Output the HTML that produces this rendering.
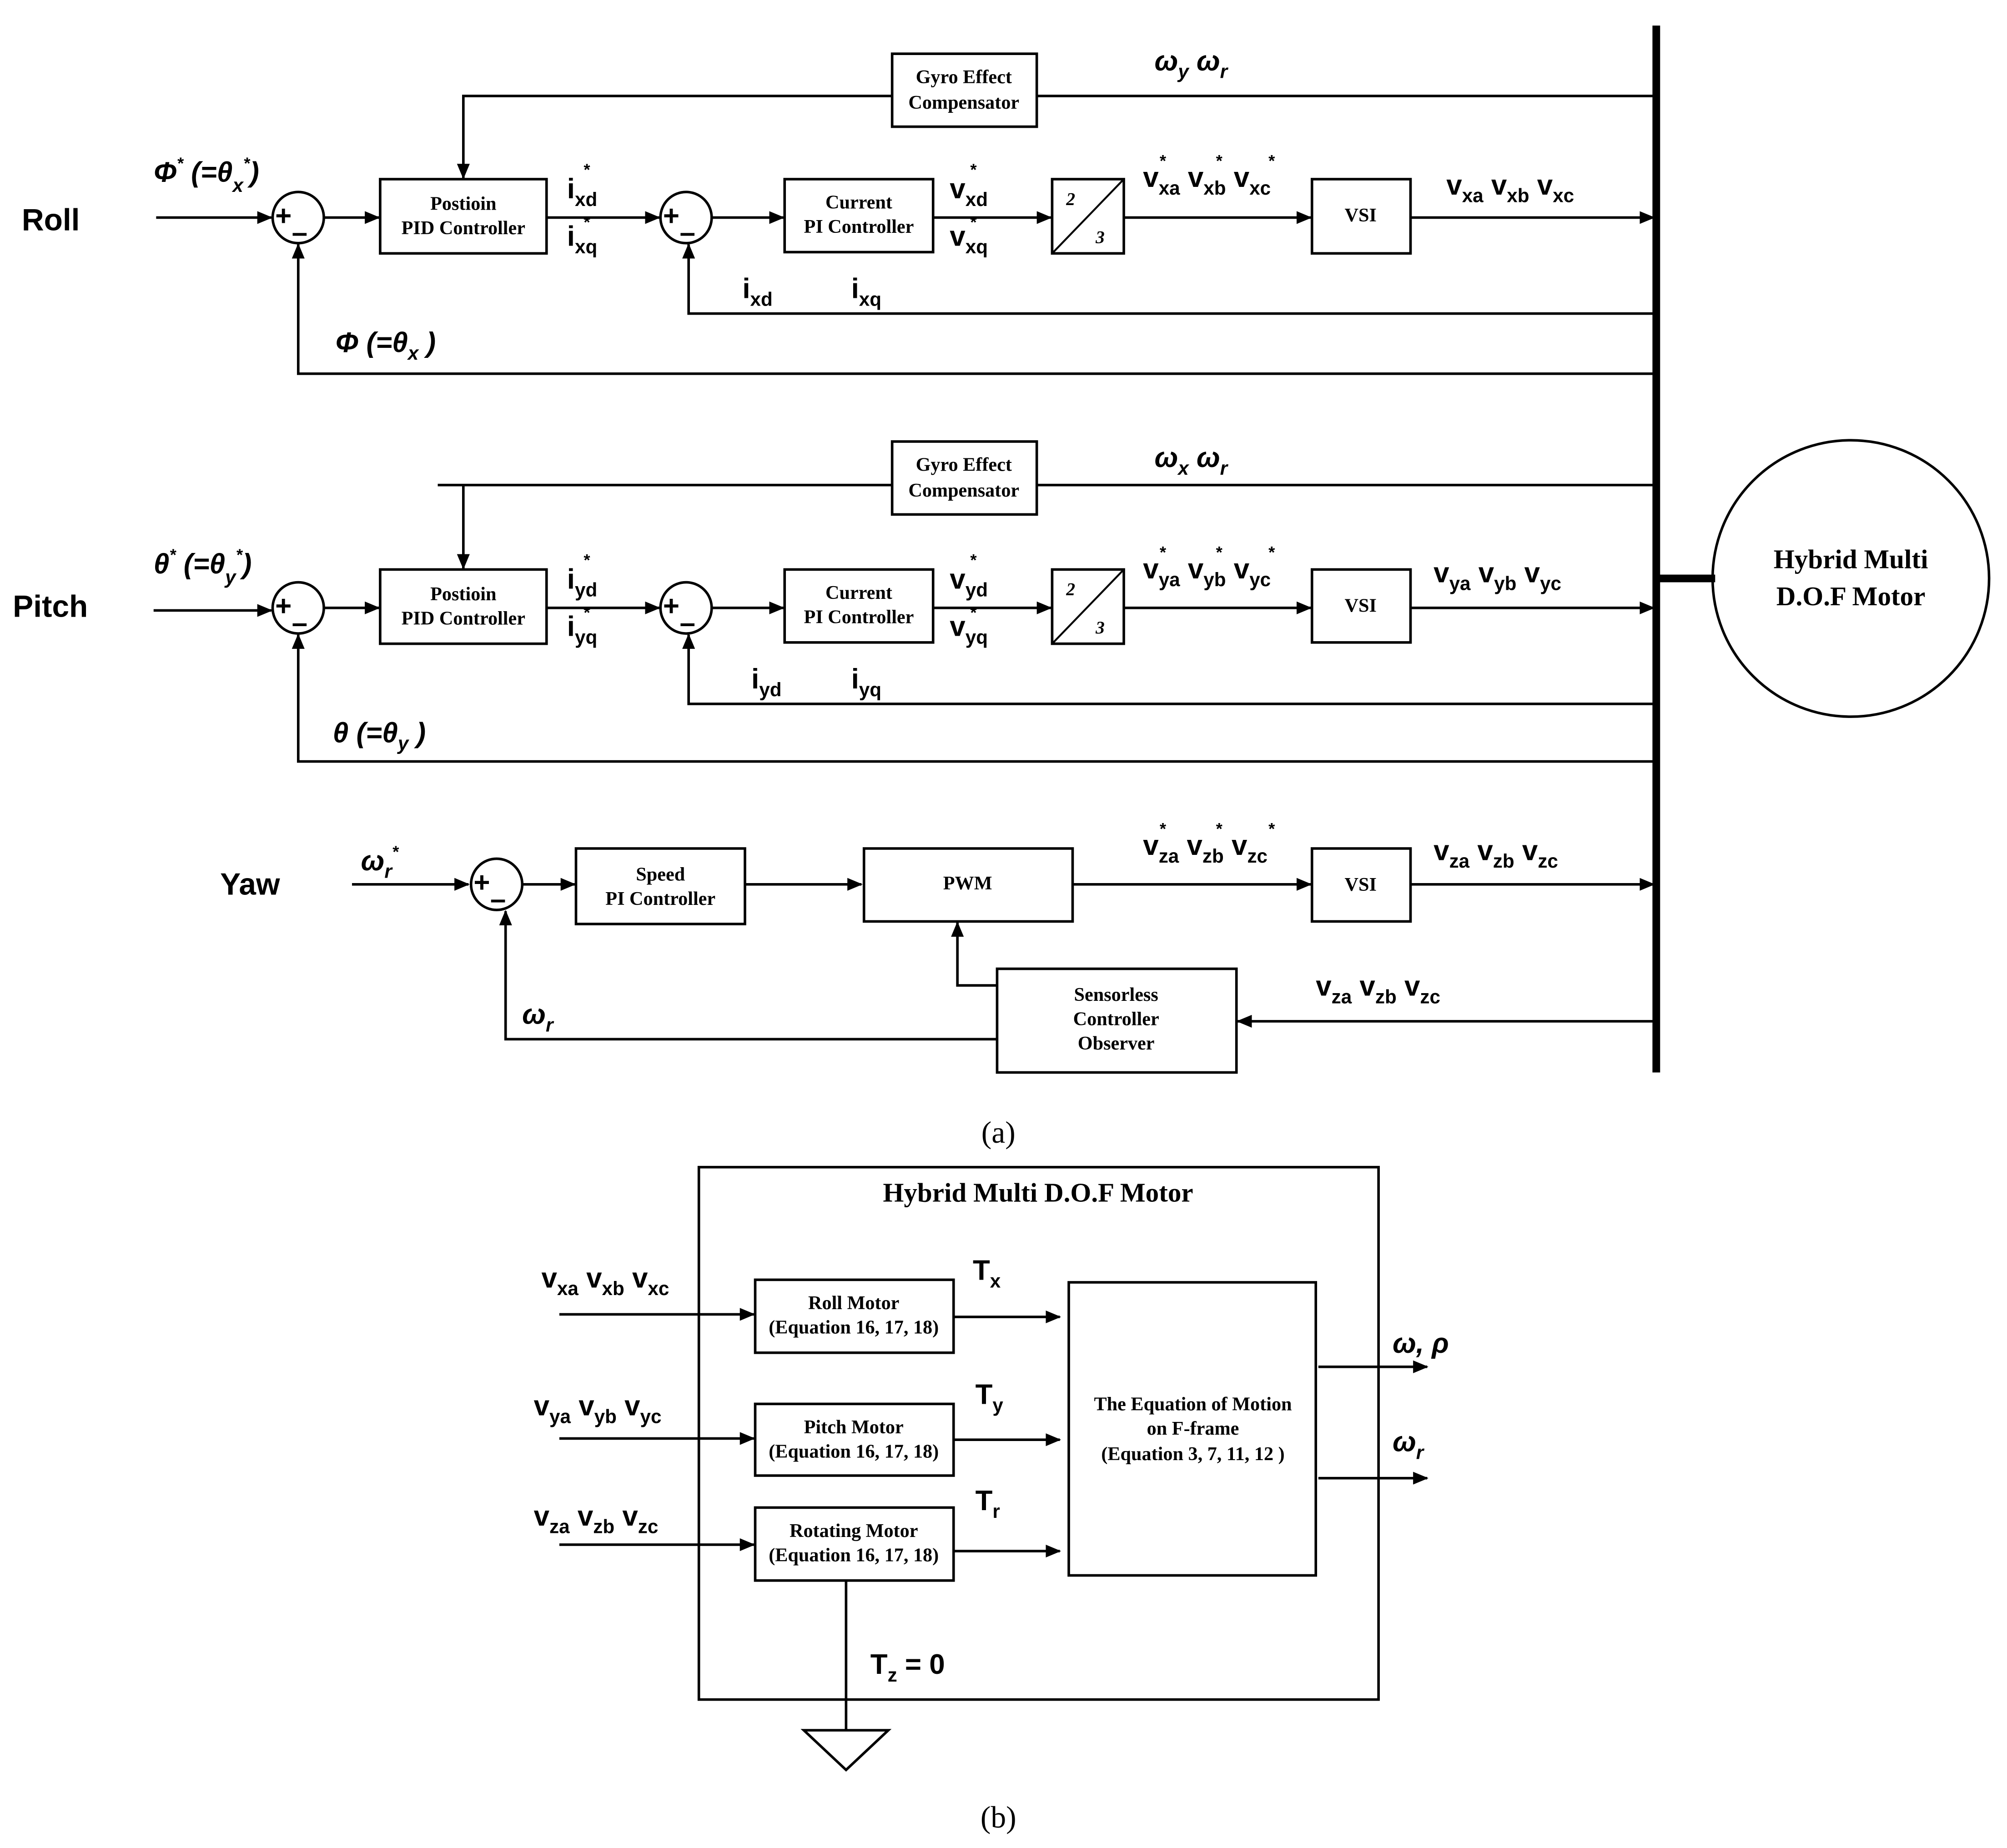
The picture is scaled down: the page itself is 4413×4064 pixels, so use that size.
<!DOCTYPE html>
<html><head><meta charset="utf-8">
<style>
html,body{margin:0;padding:0;background:#fff;}
svg{display:block;}
.s{font-family:"Liberation Sans",sans-serif;font-weight:bold;}
.t{font-family:"Liberation Serif",serif;font-weight:bold;font-size:15px;}
</style></head><body>
<svg width="4413" height="4064" viewBox="0 0 1568 1444" xmlns="http://www.w3.org/2000/svg">
<defs>
<marker id="a" markerWidth="12" markerHeight="10" refX="11" refY="5" orient="auto" markerUnits="userSpaceOnUse">
<path d="M0,0 L12,5 L0,10 Z" fill="#000"/></marker>
</defs>
<rect width="1568" height="1444" fill="#fff"/>
<g fill="none" stroke="#000" stroke-width="2">
<line x1="1294" y1="20" x2="1294" y2="838" stroke-width="6"/>
<line x1="1294" y1="452" x2="1340" y2="452" stroke-width="6"/>
<circle cx="1446" cy="452" r="108"/>

<rect x="697" y="42" width="113" height="57"/>
<polyline points="1292,75 810,75"/>
<polyline points="697,75 362,75 362,139" marker-end="url(#a)"/>
<line x1="122" y1="170" x2="212" y2="170" marker-end="url(#a)"/>
<ellipse cx="233" cy="170" rx="20" ry="20"/>
<line x1="253" y1="170" x2="296" y2="170" marker-end="url(#a)"/>
<rect x="297" y="140" width="130" height="58"/>
<line x1="427" y1="170" x2="515" y2="170" marker-end="url(#a)"/>
<ellipse cx="536" cy="170" rx="20" ry="20"/>
<line x1="556" y1="170" x2="612" y2="170" marker-end="url(#a)"/>
<rect x="613" y="140" width="116" height="57"/>
<line x1="729" y1="170" x2="821" y2="170" marker-end="url(#a)"/>
<rect x="822" y="140" width="56" height="58"/>
<line x1="822" y1="198" x2="878" y2="140" stroke-width="1.5"/>
<line x1="878" y1="170" x2="1024" y2="170" marker-end="url(#a)"/>
<rect x="1025" y="140" width="77" height="58"/>
<line x1="1102" y1="170" x2="1292" y2="170" marker-end="url(#a)"/>
<polyline points="1292,245 538,245 538,191" marker-end="url(#a)"/>
<polyline points="1292,292 233,292 233,191" marker-end="url(#a)"/>

<rect x="697" y="345" width="113" height="57"/>
<polyline points="1292,379 810,379"/>
<polyline points="697,379 342,379"/>
<line x1="362" y1="379" x2="362" y2="444" marker-end="url(#a)"/>
<line x1="120" y1="477" x2="212" y2="477" marker-end="url(#a)"/>
<ellipse cx="233" cy="475" rx="20" ry="20"/>
<line x1="253" y1="475" x2="296" y2="475" marker-end="url(#a)"/>
<rect x="297" y="445" width="130" height="58"/>
<line x1="427" y1="475" x2="515" y2="475" marker-end="url(#a)"/>
<ellipse cx="536" cy="475" rx="20" ry="20"/>
<line x1="556" y1="475" x2="612" y2="475" marker-end="url(#a)"/>
<rect x="613" y="445" width="116" height="57"/>
<line x1="729" y1="475" x2="821" y2="475" marker-end="url(#a)"/>
<rect x="822" y="445" width="56" height="58"/>
<line x1="822" y1="503" x2="878" y2="445" stroke-width="1.5"/>
<line x1="878" y1="475" x2="1024" y2="475" marker-end="url(#a)"/>
<rect x="1025" y="445" width="77" height="57"/>
<line x1="1102" y1="475" x2="1292" y2="475" marker-end="url(#a)"/>
<polyline points="1292,550 538,550 538,496" marker-end="url(#a)"/>
<polyline points="1292,595 233,595 233,496" marker-end="url(#a)"/>

<line x1="275" y1="691" x2="366" y2="691" marker-end="url(#a)"/>
<ellipse cx="388" cy="691" rx="20" ry="20"/>
<line x1="408" y1="691" x2="449" y2="691" marker-end="url(#a)"/>
<rect x="450" y="663" width="132" height="59"/>
<line x1="582" y1="691" x2="673" y2="691" marker-end="url(#a)"/>
<rect x="675" y="663" width="163" height="57"/>
<line x1="838" y1="691" x2="1024" y2="691" marker-end="url(#a)"/>
<rect x="1025" y="663" width="77" height="57"/>
<line x1="1102" y1="691" x2="1292" y2="691" marker-end="url(#a)"/>
<rect x="779" y="757" width="187" height="81"/>
<line x1="1292" y1="798" x2="967" y2="798" marker-end="url(#a)"/>
<polyline points="779,812 395,812 395,712" marker-end="url(#a)"/>
<polyline points="779,770 748,770 748,721" marker-end="url(#a)"/>

<rect x="546" y="912" width="531" height="416"/>
<rect x="590" y="1000" width="155" height="57"/>
<rect x="590" y="1097" width="155" height="56"/>
<rect x="590" y="1178" width="155" height="57"/>
<rect x="835" y="1002" width="193" height="229"/>
<line x1="437" y1="1027" x2="589" y2="1027" marker-end="url(#a)"/>
<line x1="437" y1="1124" x2="589" y2="1124" marker-end="url(#a)"/>
<line x1="437" y1="1207" x2="589" y2="1207" marker-end="url(#a)"/>
<line x1="745" y1="1029" x2="828" y2="1029" marker-end="url(#a)"/>
<line x1="745" y1="1125" x2="828" y2="1125" marker-end="url(#a)"/>
<line x1="745" y1="1212" x2="828" y2="1212" marker-end="url(#a)"/>
<line x1="1030" y1="1068" x2="1115" y2="1068" marker-end="url(#a)"/>
<line x1="1030" y1="1155" x2="1115" y2="1155" marker-end="url(#a)"/>
<line x1="661" y1="1235" x2="661" y2="1352"/>
<polygon points="628,1352 694,1352 661,1383"/>
</g>

<g class="s" font-size="22">
<text x="215" y="176">+</text><text x="228" y="189">–</text>
<text x="518" y="176">+</text><text x="531" y="189">–</text>
<text x="215" y="481">+</text><text x="228" y="494">–</text>
<text x="518" y="481">+</text><text x="531" y="494">–</text>
<text x="370" y="697">+</text><text x="383" y="710">–</text>
</g>

<g class="t" text-anchor="middle">
<text x="753" y="65">Gyro Effect</text><text x="753" y="85">Compensator</text>
<text x="362" y="164">Postioin</text><text x="362" y="183">PID Controller</text>
<text x="671" y="163">Current</text><text x="671" y="182">PI Controller</text>
<text x="1063" y="173">VSI</text>
<text x="753" y="368">Gyro Effect</text><text x="753" y="388">Compensator</text>
<text x="362" y="469">Postioin</text><text x="362" y="488">PID Controller</text>
<text x="671" y="468">Current</text><text x="671" y="487">PI Controller</text>
<text x="1063" y="478">VSI</text>
<text x="516" y="688">Speed</text><text x="516" y="707">PI Controller</text>
<text x="756" y="695">PWM</text>
<text x="1063" y="696">VSI</text>
<text x="872" y="782">Sensorless</text><text x="872" y="801">Controller</text><text x="872" y="820">Observer</text>
<text x="667" y="1023">Roll Motor</text><text x="667" y="1042">(Equation 16, 17, 18)</text>
<text x="667" y="1120">Pitch Motor</text><text x="667" y="1139">(Equation 16, 17, 18)</text>
<text x="667" y="1201">Rotating Motor</text><text x="667" y="1220">(Equation 16, 17, 18)</text>
<text x="932" y="1102">The Equation of Motion</text><text x="932" y="1121">on F-frame</text><text x="932" y="1141">(Equation 3, 7, 11, 12 )</text>
<text x="1446" y="444" font-size="21">Hybrid Multi</text><text x="1446" y="473" font-size="21">D.O.F Motor</text>
<text x="811" y="939" font-size="21">Hybrid Multi D.O.F Motor</text>
</g>
<g font-family="Liberation Serif,serif" font-style="italic" font-size="14" font-weight="bold">
<text x="833" y="160">2</text><text x="856" y="190">3</text>
<text x="833" y="465">2</text><text x="856" y="495">3</text>
</g>
<g font-family="Liberation Serif,serif" font-size="24" text-anchor="middle">
<text x="780" y="893">(a)</text><text x="780" y="1428">(b)</text>
</g>

<g class="s" font-size="22">
<text x="17" y="180" font-size="24">Roll</text>
<text x="10" y="482" font-size="24">Pitch</text>
<text x="172" y="699" font-size="24">Yaw</text>

<text x="120" y="142" font-style="italic">Φ<tspan dy="-10" font-size="13">*</tspan><tspan dy="10"> (=θ</tspan><tspan dy="8" font-size="15">x</tspan><tspan dy="-18" font-size="13">*</tspan><tspan dy="10">)</tspan></text>
<text x="120" y="448" font-style="italic">θ<tspan dy="-10" font-size="13">*</tspan><tspan dy="10"> (=θ</tspan><tspan dy="8" font-size="15">y</tspan><tspan dy="-18" font-size="13">*</tspan><tspan dy="10">)</tspan></text>
<text x="262" y="275" font-style="italic">Φ (=θ<tspan dy="6" font-size="15">x</tspan><tspan dy="-6"> )</tspan></text>
<text x="260" y="580" font-style="italic">θ  (=θ<tspan dy="6" font-size="15">y</tspan><tspan dy="-6"> )</tspan></text>

<text x="902" y="55" font-style="italic">ω<tspan dy="6" font-size="15">y</tspan><tspan dy="-6">   ω</tspan><tspan dy="6" font-size="15">r</tspan></text>
<text x="902" y="365" font-style="italic">ω<tspan dy="6" font-size="15">x</tspan><tspan dy="-6">   ω</tspan><tspan dy="6" font-size="15">r</tspan></text>
<text x="282" y="680" font-style="italic">ω<tspan dy="6" font-size="15">r</tspan><tspan dy="-16" font-size="13">*</tspan></text>
<text x="408" y="800" font-style="italic">ω<tspan dy="6" font-size="15">r</tspan></text>

<text x="443" y="155">i<tspan dy="6" font-size="15">xd</tspan></text><text x="456" y="137" font-size="13">*</text>
<text x="443" y="192">i<tspan dy="6" font-size="15">xq</tspan></text><text x="456" y="178" font-size="13">*</text>
<text x="443" y="460">i<tspan dy="6" font-size="15">yd</tspan></text><text x="456" y="442" font-size="13">*</text>
<text x="443" y="497">i<tspan dy="6" font-size="15">yq</tspan></text><text x="456" y="483" font-size="13">*</text>

<text x="742" y="155">v<tspan dy="6" font-size="15">xd</tspan></text><text x="758" y="137" font-size="13">*</text>
<text x="742" y="192">v<tspan dy="6" font-size="15">xq</tspan></text><text x="758" y="178" font-size="13">*</text>
<text x="742" y="460">v<tspan dy="6" font-size="15">yd</tspan></text><text x="758" y="442" font-size="13">*</text>
<text x="742" y="497">v<tspan dy="6" font-size="15">yq</tspan></text><text x="758" y="483" font-size="13">*</text>

<text x="580" y="233">i<tspan dy="6" font-size="15">xd</tspan></text>
<text x="665" y="233">i<tspan dy="6" font-size="15">xq</tspan></text>
<text x="587" y="538">i<tspan dy="6" font-size="15">yd</tspan></text>
<text x="665" y="538">i<tspan dy="6" font-size="15">yq</tspan></text>

<text x="893" y="146">v<tspan dy="6" font-size="15">xa</tspan><tspan dy="-6">  v</tspan><tspan dy="6" font-size="15">xb</tspan><tspan dy="-6">  v</tspan><tspan dy="6" font-size="15">xc</tspan></text>
<text font-size="13" y="130"><tspan x="906">*</tspan><tspan x="950">*</tspan><tspan x="991">*</tspan></text>
<text x="893" y="452">v<tspan dy="6" font-size="15">ya</tspan><tspan dy="-6">  v</tspan><tspan dy="6" font-size="15">yb</tspan><tspan dy="-6">  v</tspan><tspan dy="6" font-size="15">yc</tspan></text>
<text font-size="13" y="436"><tspan x="906">*</tspan><tspan x="950">*</tspan><tspan x="991">*</tspan></text>
<text x="893" y="668">v<tspan dy="6" font-size="15">za</tspan><tspan dy="-6">  v</tspan><tspan dy="6" font-size="15">zb</tspan><tspan dy="-6">  v</tspan><tspan dy="6" font-size="15">zc</tspan></text>
<text font-size="13" y="652"><tspan x="906">*</tspan><tspan x="950">*</tspan><tspan x="991">*</tspan></text>

<text x="1130" y="152">v<tspan dy="6" font-size="15">xa</tspan><tspan dy="-6">  v</tspan><tspan dy="6" font-size="15">xb</tspan><tspan dy="-6">  v</tspan><tspan dy="6" font-size="15">xc</tspan></text>
<text x="1120" y="455">v<tspan dy="6" font-size="15">ya</tspan><tspan dy="-6">  v</tspan><tspan dy="6" font-size="15">yb</tspan><tspan dy="-6">  v</tspan><tspan dy="6" font-size="15">yc</tspan></text>
<text x="1120" y="672">v<tspan dy="6" font-size="15">za</tspan><tspan dy="-6">  v</tspan><tspan dy="6" font-size="15">zb</tspan><tspan dy="-6">  v</tspan><tspan dy="6" font-size="15">zc</tspan></text>
<text x="1028" y="778">v<tspan dy="6" font-size="15">za</tspan><tspan dy="-6">  v</tspan><tspan dy="6" font-size="15">zb</tspan><tspan dy="-6">  v</tspan><tspan dy="6" font-size="15">zc</tspan></text>

<text x="423" y="1006">v<tspan dy="6" font-size="15">xa</tspan><tspan dy="-6">  v</tspan><tspan dy="6" font-size="15">xb</tspan><tspan dy="-6">  v</tspan><tspan dy="6" font-size="15">xc</tspan></text>
<text x="417" y="1106">v<tspan dy="6" font-size="15">ya</tspan><tspan dy="-6">  v</tspan><tspan dy="6" font-size="15">yb</tspan><tspan dy="-6">  v</tspan><tspan dy="6" font-size="15">yc</tspan></text>
<text x="417" y="1192">v<tspan dy="6" font-size="15">za</tspan><tspan dy="-6">  v</tspan><tspan dy="6" font-size="15">zb</tspan><tspan dy="-6">  v</tspan><tspan dy="6" font-size="15">zc</tspan></text>

<text x="760" y="1000">T<tspan dy="6" font-size="15">x</tspan></text>
<text x="762" y="1097">T<tspan dy="6" font-size="15">y</tspan></text>
<text x="762" y="1180">T<tspan dy="6" font-size="15">r</tspan></text>
<text x="680" y="1308">T<tspan dy="6" font-size="15">z</tspan><tspan dy="-6"> = 0</tspan></text>
<text x="1088" y="1057" font-style="italic">ω, ρ</text>
<text x="1088" y="1134" font-style="italic">ω<tspan dy="6" font-size="15">r</tspan></text>
</g>
</svg>
</body></html>
